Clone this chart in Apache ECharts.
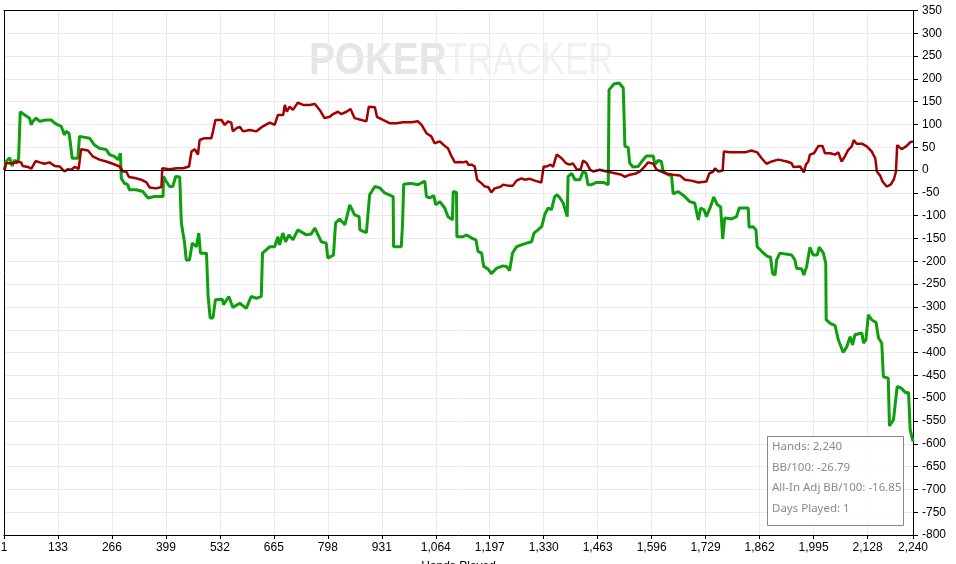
<!DOCTYPE html>
<html>
<head>
<meta charset="utf-8">
<script src="https://cdn.jsdelivr.net/npm/echarts@6/dist/echarts.min.js"></script>
<style>
html,body{margin:0;padding:0;background:#fff;}
#chart{width:956px;height:564px;}
</style>
</head>
<body>
<div id="chart"></div>
<script>
// ---- Data ----
const xTickInterval = 133;
const handsMax = 2240;
const yMin = -800, yMax = 350, yInterval = 50;

const greenHands = [1,5,14,20,26,32,36,40,51,63,67,71,79,88,104,116,125,133,141,149,153,160,163,168,182,186,211,223,235,252,260,272,281,287,289,297,305,309,326,342,355,371,392,393,400,408,416,423,433,437,445,449,457,464,474,480,484,499,503,508,515,521,538,541,554,564,581,597,609,622,634,637,655,667,675,679,687,694,702,712,724,745,757,766,782,794,798,812,817,827,840,852,864,875,877,893,901,914,926,938,959,960,979,982,985,1004,1020,1037,1041,1049,1059,1064,1074,1086,1094,1105,1107,1115,1116,1131,1140,1152,1163,1168,1177,1182,1193,1201,1214,1230,1238,1246,1253,1263,1275,1288,1300,1306,1316,1325,1333,1341,1349,1357,1363,1370,1378,1388,1390,1399,1407,1419,1427,1434,1439,1448,1460,1477,1489,1491,1503,1516,1526,1530,1538,1542,1550,1563,1575,1583,1600,1604,1612,1620,1624,1637,1645,1649,1661,1675,1690,1702,1711,1717,1725,1731,1741,1749,1758,1766,1771,1776,1793,1805,1812,1834,1836,1846,1853,1856,1867,1881,1889,1894,1900,1904,1912,1941,1949,1953,1966,1971,1978,1986,1994,2004,2009,2019,2025,2026,2036,2048,2056,2068,2077,2085,2091,2097,2114,2118,2124,2130,2138,2149,2155,2163,2167,2179,2182,2192,2201,2211,2223,2229,2233,2240];
const greenValues = [0,19,27,9,22,15,26,128,121,114,99,107,114,107,110,110,103,99,96,77,85,81,63,26,26,74,70,55,48,45,34,30,23,37,-18,-29,-32,-43,-43,-47,-61,-58,-58,-14,-25,-36,-36,-14,-15,-116,-160,-197,-197,-160,-168,-138,-182,-182,-277,-324,-324,-284,-283,-295,-277,-301,-292,-303,-277,-281,-277,-182,-168,-168,-146,-164,-138,-157,-142,-153,-131,-142,-140,-127,-157,-160,-193,-186,-116,-107,-120,-76,-98,-102,-131,-137,-54,-36,-39,-50,-58,-168,-168,-120,-31,-29,-32,-24,-58,-61,-56,-76,-69,-83,-102,-109,-47,-49,-146,-146,-142,-149,-153,-178,-182,-211,-217,-227,-215,-210,-211,-220,-182,-168,-164,-160,-157,-138,-131,-124,-96,-83,-87,-58,-54,-61,-72,-102,-14,-7,-21,-21,-3,-7,-32,-32,-27,-27,-32,176,189,191,180,52,50,15,7,8,23,31,31,12,21,19,-3,-10,-12,-52,-47,-56,-69,-72,-109,-83,-87,-102,-80,-59,-76,-81,-151,-105,-107,-102,-83,-83,-125,-124,-131,-168,-178,-189,-191,-227,-230,-197,-182,-186,-197,-215,-217,-230,-211,-169,-186,-186,-169,-182,-204,-328,-336,-341,-372,-400,-387,-365,-383,-361,-357,-379,-372,-317,-328,-334,-368,-379,-453,-456,-561,-547,-474,-478,-489,-487,-569,-595];

const redHands = [1,5,22,34,42,46,59,67,78,88,100,112,125,137,149,157,166,174,184,190,207,219,235,252,268,285,293,301,308,326,338,351,359,375,388,390,408,425,441,456,462,470,478,482,494,511,515,521,536,544,552,560,564,573,581,589,605,622,638,655,667,675,688,692,697,704,712,724,737,753,766,778,790,803,811,823,831,844,854,864,881,893,899,914,919,934,950,967,983,1004,1020,1029,1041,1053,1061,1074,1086,1094,1103,1111,1123,1131,1140,1144,1152,1160,1166,1177,1185,1193,1201,1209,1222,1230,1242,1254,1263,1275,1283,1296,1308,1324,1330,1338,1347,1353,1362,1374,1385,1394,1402,1411,1421,1427,1436,1444,1452,1468,1485,1497,1505,1522,1530,1542,1555,1567,1579,1587,1600,1608,1620,1633,1649,1666,1678,1694,1711,1731,1738,1748,1752,1760,1771,1774,1789,1805,1826,1842,1856,1867,1879,1892,1908,1929,1941,1945,1962,1971,1976,1982,1986,1996,2007,2017,2023,2036,2048,2056,2064,2072,2080,2089,2094,2101,2114,2126,2138,2147,2151,2159,2165,2175,2185,2193,2198,2201,2212,2223,2233,2240];
const redValues = [0,15,15,19,17,9,7,3,20,17,14,17,9,8,-3,2,1,7,3,46,43,30,23,19,14,8,-3,-3,-15,-18,-21,-27,-38,-40,-37,4,2,4,4,8,41,46,34,66,70,70,85,110,110,99,107,104,85,92,95,85,88,85,96,104,99,121,121,143,128,139,132,148,143,143,145,132,114,117,123,128,123,128,134,114,110,107,139,138,117,110,103,103,105,105,107,99,81,74,59,63,53,48,30,17,18,17,19,12,12,8,-21,-29,-36,-37,-49,-40,-37,-32,-34,-34,-23,-18,-21,-19,-23,-27,8,8,12,7,34,26,15,12,15,2,1,21,15,1,-3,1,-3,-5,-7,-10,-15,-10,-8,-3,8,17,14,1,-3,-8,-10,-12,-21,-23,-27,-25,-7,-3,4,-3,-1,41,39,39,39,43,39,26,14,19,23,19,15,7,8,-5,12,19,34,37,53,53,37,37,34,39,19,30,44,52,66,58,58,52,41,26,-3,-12,-25,-36,-32,-20,-3,55,46,52,61,63];

const infoLines = ['Hands: 2,240', 'BB/100: -26.79', 'All-In Adj BB/100: -16.85', 'Days Played: 1'];

// ---- Build ----
const zip = (xs, ys) => xs.map((x, i) => [x, ys[i]]);
const chart = echarts.init(document.getElementById('chart'), null, {renderer: 'canvas'});
const gridColor = '#ebebeb';
const fontAxis = "'Liberation Sans', Arial, sans-serif";

const infoTexts = infoLines.map((t, i) => ({
  type: 'text', left: 772, top: 441 + i * 20.5, z: 101,
  style: {text: t, fill: '#8a8a8a', font: "11.5px 'Noto Sans', 'Open Sans', sans-serif"}
}));

const frameAxisX = {
  type: 'value', min: 0, max: handsMax, position: 'top',
  axisLine: {show: true, onZero: false, lineStyle: {color: '#000', width: 1}},
  axisTick: {show: false}, axisLabel: {show: false}, splitLine: {show: false}
};
const frameAxisY = {
  type: 'value', min: yMin, max: yMax, position: 'left',
  axisLine: {show: true, onZero: false, lineStyle: {color: '#000', width: 1}},
  axisTick: {show: false}, axisLabel: {show: false}, splitLine: {show: false}
};

chart.setOption({
  animation: false,
  backgroundColor: '#fff',
  grid: {left: 4, right: 43, top: 10.5, bottom: 29, show: false, containLabel: false, outerBoundsMode: 'none'},
  xAxis: [{
    type: 'value', min: 0, max: handsMax, interval: xTickInterval, position: 'bottom',
    name: 'Hands Played', nameLocation: 'middle', nameGap: 26,
    nameTextStyle: {color: '#000', fontSize: 12, fontFamily: fontAxis},
    axisLine: {show: true, onZero: false, lineStyle: {color: '#000', width: 1}},
    axisTick: {show: true, length: 4, lineStyle: {color: '#000'}},
    axisLabel: {color: '#000', fontSize: 12, fontFamily: fontAxis, margin: 7, showMinLabel: true, showMaxLabel: true,
      formatter: v => v === 0 ? '1' : v.toLocaleString('en-US')},
    splitLine: {show: true, lineStyle: {color: gridColor, width: 1}}
  }, frameAxisX],
  yAxis: [{
    type: 'value', position: 'right', min: yMin, max: yMax, interval: yInterval,
    axisLine: {show: true, onZero: false, lineStyle: {color: '#000', width: 1}},
    axisTick: {show: true, length: 5, lineStyle: {color: '#000'}},
    axisLabel: {color: '#000', fontSize: 12, fontFamily: fontAxis, margin: 9, showMinLabel: true, showMaxLabel: true},
    splitLine: {show: true, lineStyle: {color: gridColor, width: 1}}
  }, frameAxisY],
  graphic: [
    {type: 'text', left: 309, top: 39, scaleX: 0.86, z: 0,
      style: {text: 'POKER', fill: '#e6e6e6', font: "bold 45px 'Liberation Sans', Arial, sans-serif"}},
    {type: 'text', left: 446, top: 39, scaleX: 0.78, z: 0,
      style: {text: 'TRACKER', fill: '#f1f1f1', font: "45px 'Liberation Sans', Arial, sans-serif"}},
    {type: 'rect', left: 767, top: 436, z: 100,
      shape: {width: 136, height: 89},
      style: {fill: 'rgba(255,255,255,0.9)', stroke: '#888', lineWidth: 1}},
    ...infoTexts
  ],
  series: [
    {
      name: 'All-In Adj', type: 'line', data: zip(redHands, redValues), xAxisIndex: 0, yAxisIndex: 0,
      showSymbol: false, symbol: 'none', smooth: false,
      lineStyle: {color: '#a30000', width: 2.5}, itemStyle: {color: '#a30000'},
      markLine: {silent: true, symbol: 'none', label: {show: false},
        lineStyle: {color: '#000', width: 1, type: 'solid'}, data: [{yAxis: 0}]},
      z: 3
    },
    {
      name: 'Winnings', type: 'line', data: zip(greenHands, greenValues), xAxisIndex: 0, yAxisIndex: 0,
      showSymbol: false, symbol: 'none', smooth: false,
      lineStyle: {color: '#0e9e0e', width: 3}, itemStyle: {color: '#0e9e0e'},
      z: 2
    }
  ]
});
</script>
</body>
</html>
